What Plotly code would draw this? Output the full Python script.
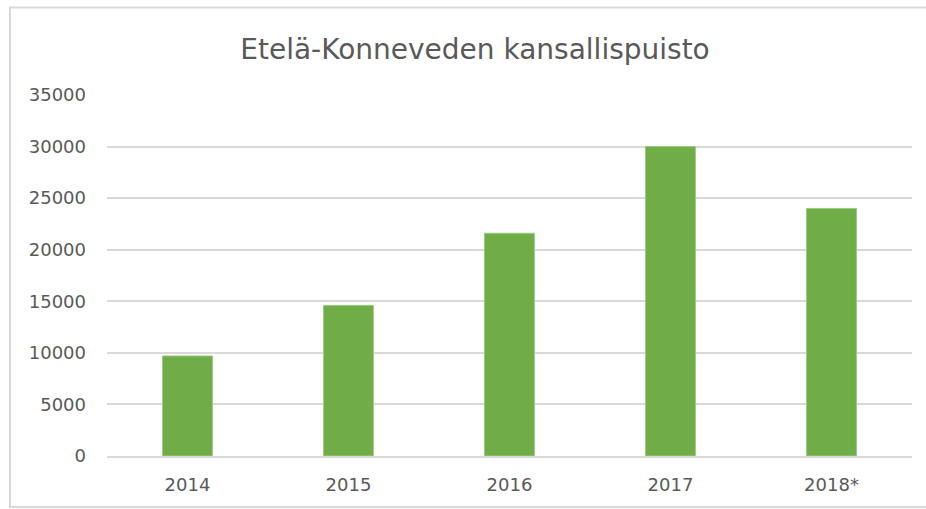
import plotly.graph_objects as go

years = ["2014", "2015", "2016", "2017", "2018*"]
visitors = [9700, 14600, 21600, 30000, 24000]
y_ticks = [0, 5000, 10000, 15000, 20000, 25000, 30000, 35000]
y_tick_text = ["0", "5000", "10000", "15000", "20000", "25000", "30000", "35000"]
title_text = "Etelä-Konneveden kansallispuisto"

W, H = 926, 509
L, R, T, B = 107, 14, 95, 53
pw, ph = W - L - R, H - T - B

def px_x(p):
    return (p - L) / pw

def px_y(p):
    return (H - B - p) / ph

FONT = "DejaVu Sans"

fig = go.Figure(go.Bar(
    x=years, y=visitors,
    marker=dict(color="#70AD47", line=dict(color="#9CCB83", width=1)),
))

fig.update_layout(
    width=W, height=H,
    margin=dict(l=L, r=R, t=T, b=B),
    paper_bgcolor="white", plot_bgcolor="white",
    bargap=0.69,
    showlegend=False,
    font=dict(family=FONT, color="#595959"),
    title=dict(text=title_text, x=475 / W, xref="container", xanchor="center",
               y=1 - 49 / H, yref="container", yanchor="middle",
               font=dict(size=28, color="#595959", family=FONT)),
    xaxis=dict(showgrid=False, showline=True, linecolor="#D9D9D9", linewidth=2,
               ticks="", tickfont=dict(size=18, color="#595959"),
               ticklabelstandoff=11),
    yaxis=dict(range=[0, 35000], tickvals=y_ticks, ticktext=y_tick_text,
               showgrid=True, gridcolor="#D9D9D9", gridwidth=2, zeroline=False,
               showline=False, ticks="", tickfont=dict(size=18, color="#595959"),
               ticklabelstandoff=20),
    shapes=[dict(type="rect", xref="paper", yref="paper",
                 x0=px_x(10), x1=px_x(930), y0=px_y(507), y1=px_y(7.5),
                 line=dict(color="#D9D9D9", width=2), fillcolor="rgba(0,0,0,0)",
                 layer="below")],
)

fig.write_html("out.html",
               config={"displayModeBar": False},
               post_script="document.body.style.margin='0';document.body.style.overflow='hidden';")
